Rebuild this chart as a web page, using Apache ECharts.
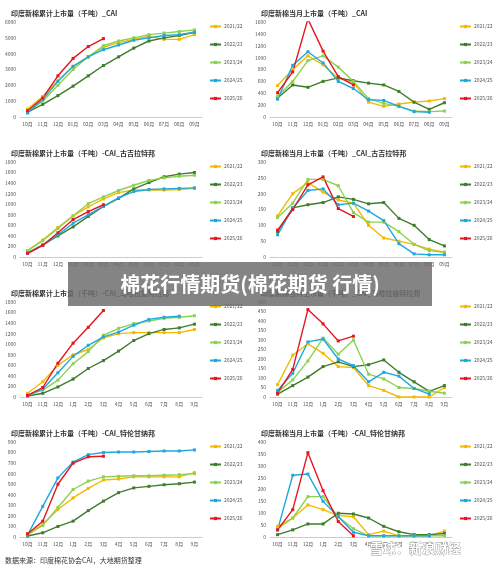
<!DOCTYPE html>
<html><head><meta charset="utf-8">
<script src="https://cdn.jsdelivr.net/npm/echarts@6/dist/echarts.min.js"></script>
<style>html,body{margin:0;padding:0;background:#fff}#c{width:500px;height:566px}</style>
</head><body><div id="c"></div>
<script>
var seasons = ['2021/22','2022/23','2023/24','2024/25','2025/26'];
var colors = ['#F5B800','#3E7D2A','#8CD250','#1EA8E0','#E8141E'];
var monthsA = ['10月','11月','12月','01月','02月','03月','04月','05月','06月','07月','08月','09月'];
var monthsB = ['10月','11月','12月','1月','2月','3月','4月','5月','6月','7月','8月','9月'];

var titles = [
  '印度新棉累计上市量（千吨）_CAI',
  '印度新棉当月上市量（千吨）_CAI',
  '印度新棉累计上市量（千吨）-CAI_古吉拉特邦',
  '印度新棉当月上市量（千吨）_CAI_古吉拉特邦',
  '印度新棉累计上市量（千吨）-CAI_马哈拉施特拉邦',
  '印度新棉当月上市量（千吨）_CAI_马哈拉施特拉邦',
  '印度新棉累计上市量（千吨）-CAI_特伦甘纳邦',
  '印度新棉当月上市量（千吨）-CAI_特伦甘纳邦'
];
var yMax = [6000,1600,1800,300,1800,500,900,400];
var yStep = [1000,200,200,50,200,50,100,50];

var p1 = [
  [500,1300,2300,3200,3800,4400,4700,4900,5100,4900,4900,5200],
  [300,800,1350,1950,2600,3250,3800,4350,4800,5000,5150,5350],
  [350,1000,2000,3000,3800,4500,4800,5000,5200,5300,5400,5500],
  [250,1100,2250,3200,3800,4250,4550,4850,5000,5150,5200,5350],
  [400,1200,2600,3700,4450,4950]
];
var p2 = [
  [530,800,1030,880,650,580,250,180,220,250,270,310],
  [320,540,500,600,660,610,570,540,430,250,130,240],
  [350,600,950,1030,840,600,310,230,180,100,90,100],
  [300,870,1100,910,600,480,290,280,180,90,80],
  [410,760,1650,1110,680,540]
];
var p3 = [
  [120,320,560,780,950,1100,1220,1270,1270,1270,1280,1300],
  [80,230,400,570,770,960,1110,1290,1410,1520,1570,1600],
  [120,310,540,780,1010,1140,1260,1360,1450,1500,1530,1550],
  [70,220,420,640,800,960,1120,1240,1280,1290,1300,1310],
  [70,220,460,710,860,990]
];
var p4 = [
  [130,200,235,205,180,170,100,60,50,40,25,15],
  [80,155,165,172,190,182,168,172,122,100,55,35],
  [125,170,245,245,225,140,110,110,80,40,20,15],
  [70,155,210,215,165,170,145,115,42,10,7,7],
  [85,150,228,253,153,128]
];
var p5 = [
  [70,290,600,800,900,1120,1200,1220,1220,1220,1220,1280],
  [20,70,190,340,540,690,870,1070,1200,1280,1310,1380],
  [40,130,320,630,860,1170,1300,1390,1440,1490,1510,1540],
  [30,150,460,770,980,1140,1230,1360,1470,1510,1530],
  [30,180,640,1020,1320,1640]
];
var p6 = [
  [65,220,280,230,160,155,60,35,0,0,0,50],
  [15,60,105,160,185,160,170,195,130,80,30,60],
  [25,90,190,310,225,300,120,95,50,45,30,20],
  [35,125,290,305,200,165,80,130,110,45,15],
  [20,145,460,385,295,320]
];
var p7 = [
  [30,120,260,370,460,540,550,570,570,570,570,610],
  [10,40,100,150,250,340,420,465,480,495,505,520],
  [20,110,280,450,530,570,575,580,580,585,590,600],
  [20,290,560,710,780,800,805,805,810,815,815,825],
  [30,150,500,700,760,765]
];
var p8 = [
  [45,80,135,115,90,85,10,25,5,5,5,25],
  [10,30,55,55,100,97,80,45,22,10,10,15],
  [35,80,170,170,85,35,5,5,5,5,5,5],
  [30,260,265,150,85,20,5,5,5,5,5],
  [30,115,355,195,65,5]
];
var panels = [p1,p2,p3,p4,p5,p6,p7,p8];

var rowTop = [0,140,280,420];
var grid = [], xAxis = [], yAxis = [], series = [], title = [], legend = [];
panels.forEach(function(p, i){
  var r = Math.floor(i/2), c = i%2;
  var ox = c*250, oy = rowTop[r];
  grid.push({left: ox+20, top: oy+22, width: 182, height: 95});
  title.push({text: titles[i], left: ox+6, top: oy+5,
    textStyle:{fontSize:7, fontWeight:'bold', color:'#333', fontFamily:'Noto Sans CJK SC'}});
  xAxis.push({type:'category', gridIndex:i, data: r<2 ? monthsA : monthsB, boundaryGap:true,
    axisLine:{lineStyle:{color:'#ccc'}}, axisTick:{show:false},
    axisLabel:{fontSize:5, color:'#555', margin:5, interval:0}});
  yAxis.push({type:'value', gridIndex:i, min:0, max:yMax[i], interval:yStep[i],
    splitLine:{show:false}, axisLine:{show:false}, axisTick:{show:false},
    axisLabel:{fontSize:5, color:'#555', margin:4, formatter:function(v){return String(v);}}});
  legend.push({orient:'vertical', left: ox+209, top: oy+24, itemGap:13, itemWidth:11, itemHeight:4,
    data: seasons, textStyle:{fontSize:5, color:'#555', padding:[0,0,0,-2]}, selectedMode:false, padding:0});
  p.forEach(function(d, k){
    series.push({type:'line', name: seasons[k], xAxisIndex:i, yAxisIndex:i, data:d,
      symbol:'rect', symbolSize:3, color: colors[k],
      lineStyle:{width:1.4, color:colors[k]}, itemStyle:{color:colors[k]}});
  });
});

var chart = echarts.init(document.getElementById('c'));
chart.setOption({
  animation:false,
  textStyle:{fontFamily:'Noto Sans CJK SC'},
  title: title, grid: grid, xAxis: xAxis, yAxis: yAxis, legend: legend, series: series,
  graphic:[
    {type:'rect', shape:{x:68, y:262, width:364, height:44}, style:{fill:'rgba(110,110,110,0.85)'}, z:100},
    {type:'text', x:250, y:284, style:{text:'棉花行情期货(棉花期货 行情)', fill:'#fff', fontSize:20,
      fontWeight:'bold', align:'center', verticalAlign:'middle', fontFamily:'Noto Sans CJK SC'}, z:101},
    {type:'text', x:5, y:557, style:{text:'数据来源：印度棉花协会CAI，大地期货整理', fill:'#333', fontSize:7,
      fontFamily:'Noto Sans CJK SC'}},
    {type:'text', x:370, y:542, style:{text:'雪球：新浪财经', fill:'#fff', stroke:'#999', lineWidth:0.8,
      fontSize:13, fontWeight:'bold', fontFamily:'Noto Sans CJK SC'}, z:101}
  ]
});
</script></body></html>
